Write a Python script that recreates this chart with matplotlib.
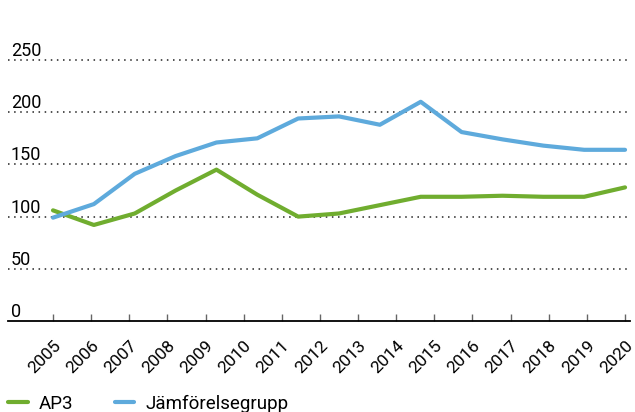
import matplotlib.pyplot as plt
import numpy as np

plt.rcParams['font.family'] = ['Roboto', 'DejaVu Sans']

years = ['2005', '2006', '2007', '2008', '2009', '2010', '2011', '2012',
         '2013', '2014', '2015', '2016', '2017', '2018', '2019', '2020']
ap3 = [106, 92, 103, 125, 145, 121, 100, 103, 111, 119, 119, 120, 119, 119, 128]
jamfor = [99, 112, 141, 158, 171, 175, 194, 196, 188, 210, 181, 174, 168, 164, 164]
yticks = [0, 50, 100, 150, 200, 250]

green = '#70ad2f'
blue = '#5eaadc'

fig = plt.figure(figsize=(6.35, 4.12), dpi=100)
ax = fig.add_axes([8 / 635, 91 / 412, 622 / 635, 271.4 / 412])

# the series points run evenly across the whole year axis
xs = np.linspace(0, len(years) - 1, len(ap3))
ax.plot(xs, ap3, color=green, lw=3, solid_capstyle='round', label='AP3', zorder=3)
ax.plot(xs, jamfor, color=blue, lw=3, solid_capstyle='round',
        label='Jämförelsegrupp', zorder=3)

ax.set_xlim(-1.18, 15.13)
ax.set_ylim(0, 260)

ax.set_xticks(range(len(years)))
ax.set_xticklabels(years, rotation=45, ha='right', va='top',
                   rotation_mode='anchor', fontsize=12.5)
ax.tick_params(axis='x', direction='in', length=5, width=1, color='#666666',
               pad=12)

ax.set_yticks(yticks)
ax.set_yticklabels([str(v) for v in yticks], fontsize=13)
ax.tick_params(axis='y', length=0, pad=-2)
for lab in ax.get_yticklabels():
    lab.set_ha('left')
    lab.set_va('bottom')

for v in yticks[1:]:
    ax.axhline(v, color='#222222', lw=1.1, ls=(0, (1, 3)), zorder=1)

for s in ['top', 'right', 'left']:
    ax.spines[s].set_visible(False)
ax.spines['bottom'].set_linewidth(1.3)

fig.legend(loc='lower left', bbox_to_anchor=(8 / 635, -0.002), ncol=2,
           frameon=False, fontsize=13.5, handlelength=1.05, handletextpad=0.6,
           columnspacing=2.2, borderpad=0, borderaxespad=0)

fig.savefig('out.png', dpi=100)
